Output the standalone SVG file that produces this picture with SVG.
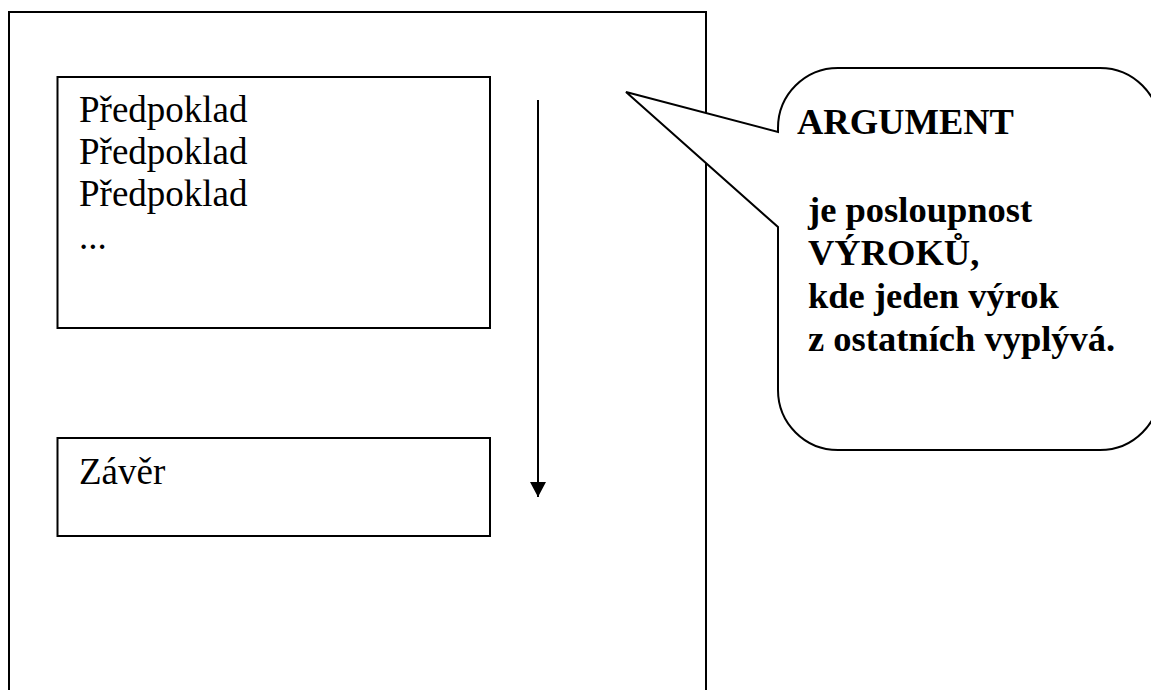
<svg xmlns="http://www.w3.org/2000/svg" width="1151" height="690" viewBox="0 0 1151 690">
<style>
.box{fill:#fff;stroke:#000;stroke-width:2}
.t{font-family:"Liberation Serif","Times New Roman",serif;font-size:37px;fill:#000}
.b{font-family:"Liberation Serif","Times New Roman",serif;font-size:36.5px;font-weight:bold;fill:#000}
.c{stroke:#000;stroke-width:2;fill:none}
</style>
<defs>
<marker id="ah" markerWidth="16" markerHeight="16" refX="15" refY="8" orient="auto" markerUnits="userSpaceOnUse">
<path d="M0,0 L15,8 L0,16 z" fill="#000"/>
</marker>
</defs>
<rect width="1151" height="690" fill="#fff"/>
<g id="frame">
<path d="M9,700 L9,12 L706,12 L706,700" class="c"/>
</g>
<g id="premises">
<rect x="57.5" y="77" width="432.5" height="251" class="box"/>
<text class="t" x="79" y="122">Předpoklad</text>
<text class="t" x="79" y="164">Předpoklad</text>
<text class="t" x="79" y="206">Předpoklad</text>
<text class="t" x="79" y="249">...</text>
</g>
<g id="conclusion">
<rect x="57.5" y="438" width="432.5" height="98" class="box"/>
<text class="t" x="79" y="484">Závěr</text>
</g>
<g id="connectors">
<line x1="538" y1="100" x2="538" y2="497" class="c" marker-end="url(#ah)"/>
</g>
<g id="callout">
<path d="M626,92 L778,132 L778,128 A60,60 0 0 1 838,68 L1100,68 A60,60 0 0 1 1160,128 L1160,390 A60,60 0 0 1 1100,450 L838,450 A60,60 0 0 1 778,390 L778,227 Z" class="box"/>
<text class="b" x="797" y="134">ARGUMENT</text>
<text class="b" x="808" y="222">je posloupnost</text>
<text class="b" x="808" y="265">VÝROKŮ,</text>
<text class="b" x="808" y="308">kde jeden výrok</text>
<text class="b" x="808" y="351">z ostatních vyplývá.</text>
</g>
</svg>
